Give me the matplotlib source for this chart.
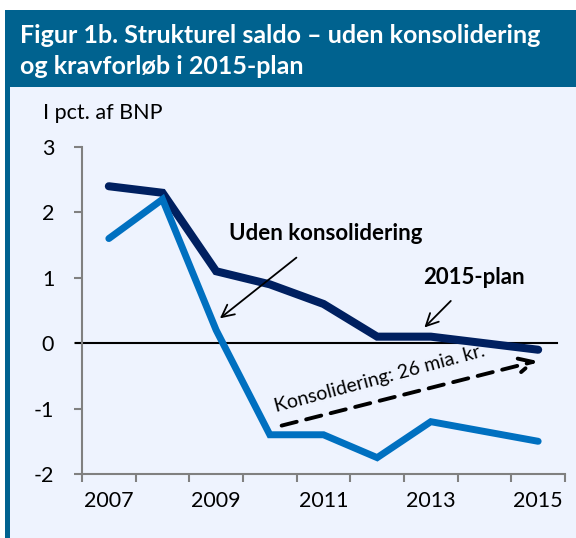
import matplotlib
matplotlib.use("Agg")
from matplotlib import pyplot as plt
from matplotlib.patches import Rectangle

plt.rcParams["font.family"] = ["Lato", "DejaVu Sans"]
plt.rcParams["axes.unicode_minus"] = False

years = [2007, 2008, 2009, 2010, 2011, 2012, 2013, 2014, 2015]
plan_2015 = [2.4, 2.3, 1.1, 0.9, 0.6, 0.1, 0.1, 0.0, -0.1]
uden_konsolidering = [1.6, 2.2, 0.2, -1.4, -1.4, -1.75, -1.2, -1.35, -1.5]
year_labels = ["2007", "", "2009", "", "2011", "", "2013", "", "2015"]

title = "Figur 1b. Strukturel saldo \u2013 uden konsolidering\nog kravforløb i 2015-plan"
header_color = "#00628F"
panel_color = "#EEF3FE"
dark_blue = "#002060"
light_blue = "#0070C0"
axis_grey = "#808080"

fig = plt.figure(figsize=(5.76, 5.38), dpi=100)
fig.patch.set_facecolor("white")

# panel background, header band and left border
fig.patches.append(Rectangle((10 / 576, 0), 1, 1 - 87 / 538, transform=fig.transFigure,
                             facecolor=panel_color, edgecolor="none", zorder=-2))
fig.patches.append(Rectangle((5 / 576, 1 - 87 / 538), 1, 77 / 538, transform=fig.transFigure,
                             facecolor=header_color, edgecolor="none", zorder=-2))
fig.patches.append(Rectangle((5 / 576, 0), 5 / 576, 1 - 10 / 538, transform=fig.transFigure,
                             facecolor=header_color, edgecolor="none", zorder=-2))
fig.text(20 / 576, 1 - 51 / 538, title, color="white", fontsize=18, fontweight="bold",
         va="center", ha="left", linespacing=1.38)

ax = fig.add_axes([82 / 576, 1 - 474 / 538, 483 / 576, 327 / 538])
ax.set_zorder(1)
ax.set_facecolor("none")
x = list(range(len(years)))
ax.plot(x, plan_2015, color=dark_blue, lw=5.8, solid_joinstyle="miter", solid_capstyle="round", zorder=3)
ax.plot(x, uden_konsolidering, color=light_blue, lw=5.0, solid_joinstyle="miter", solid_capstyle="round", zorder=3)
ax.axhline(0, xmin=-0.012, xmax=0.983, color="black", lw=1.5, clip_on=False, zorder=2)

ax.set_xlim(-0.5, len(years) - 0.5)
ax.set_ylim(-2, 3)
ax.set_yticks(range(-2, 4))
ax.set_xticks([i - 0.5 for i in range(len(years) + 1)], minor=False)
ax.set_xticklabels([])
ax.set_xticks(x, minor=True)
ax.set_xticklabels(year_labels, minor=True)
ax.tick_params(axis="x", which="minor", length=0, pad=12, labelsize=15.5)
ax.tick_params(axis="x", which="major", length=6, width=1.5, color=axis_grey)
ax.tick_params(axis="y", length=6, width=1.5, color=axis_grey, labelsize=15.5, pad=14)
for side in ["top", "right"]:
    ax.spines[side].set_visible(False)
for side in ["left", "bottom"]:
    ax.spines[side].set_color(axis_grey)
    ax.spines[side].set_linewidth(1.5)

fig.text(43 / 576, 1 - 113 / 538, "I pct. af BNP", fontsize=15.5, va="center", ha="left")

ax.annotate("Uden konsolidering", xy=(2.07, 0.38), xytext=(4.05, 1.67),
            fontsize=16, fontweight="bold", ha="center", va="center",
            arrowprops=dict(arrowstyle="->", color="black", lw=1.3, mutation_scale=22,
                            shrinkA=12, shrinkB=0))
ax.annotate("2015-plan", xy=(5.88, 0.24), xytext=(6.8, 1.0),
            fontsize=16, fontweight="bold", ha="center", va="center",
            arrowprops=dict(arrowstyle="->", color="black", lw=1.3, mutation_scale=22,
                            shrinkA=10, shrinkB=0))
ax.annotate("", xy=(7.98, -0.27), xytext=(3.22, -1.26),
            arrowprops=dict(arrowstyle="->", color="black", lw=2.8, linestyle=(0, (4, 2.5)),
                            mutation_scale=25, shrinkA=0, shrinkB=0))
ax.text(5.05, -0.55, "Konsolidering: 26 mia. kr.", fontsize=14, rotation=15,
        ha="center", va="center", rotation_mode="anchor")

fig.savefig("out.png", dpi=100, facecolor=fig.get_facecolor())
